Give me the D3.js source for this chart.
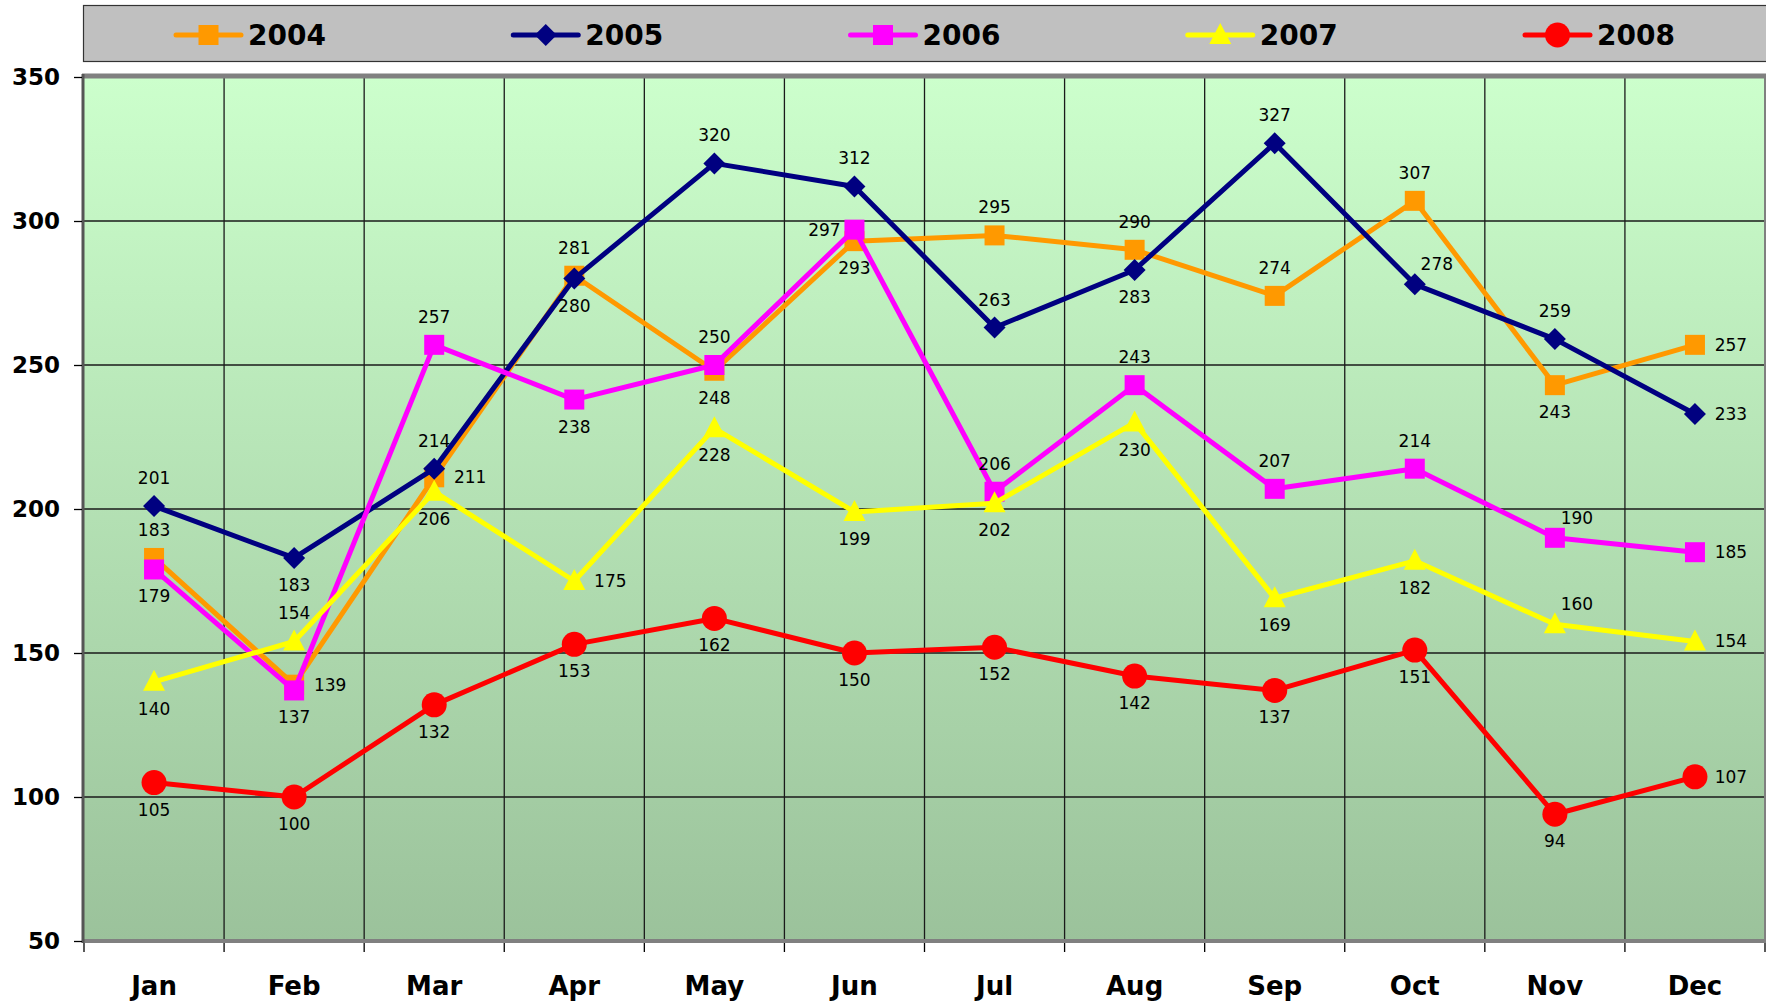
<!DOCTYPE html>
<html>
<head>
<meta charset="utf-8">
<script src="https://cdn.jsdelivr.net/npm/d3@7/dist/d3.min.js"></script>
<style>
  body { margin: 0; background: #ffffff; }
  text { font-family: "DejaVu Sans", Verdana, sans-serif; }
</style>
</head>
<body>
<div id="chart"></div>
<script>
const months = ['Jan', 'Feb', 'Mar', 'Apr', 'May', 'Jun', 'Jul', 'Aug', 'Sep', 'Oct', 'Nov', 'Dec'];
const years = ['2004', '2005', '2006', '2007', '2008'];

const values2004 = [183, 139, 211, 281, 248, 293, 295, 290, 274, 307, 243, 257];
const values2005 = [201, 183, 214, 280, 320, 312, 263, 283, 327, 278, 259, 233];
const values2006 = [179, 137, 257, 238, 250, 297, 206, 243, 207, 214, 190, 185];
const values2007 = [140, 154, 206, 175, 228, 199, 202, 230, 169, 182, 160, 154];
const values2008 = [105, 100, 132, 153, 162, 150, 152, 142, 137, 151, 94, 107];

const yTicks = [50, 100, 150, 200, 250, 300, 350];

// where each data label sits: a = above, b = below, r = right, l = left, ar = above right
const labelPos2004 = ['a', 'r', 'r', 'a', 'b', 'b', 'a', 'a', 'a', 'a', 'b', 'r'];
const labelPos2005 = ['a', 'b', 'a', 'b', 'a', 'a', 'a', 'b', 'a', 'ar', 'a', 'r'];
const labelPos2006 = ['b', 'b', 'a', 'b', 'a', 'l', 'a', 'a', 'a', 'a', 'ar', 'r'];
const labelPos2007 = ['b', 'a', 'b', 'r', 'b', 'b', 'b', 'b', 'b', 'b', 'ar', 'r'];
const labelPos2008 = ['b', 'b', 'b', 'b', 'b', 'b', 'b', 'b', 'b', 'b', 'b', 'r'];

const seriesValues = [values2004, values2005, values2006, values2007, values2008];
const seriesLabelPos = [labelPos2004, labelPos2005, labelPos2006, labelPos2007, labelPos2008];
const seriesColors = ['#FF9900', '#000080', '#FF00FF', '#FFFF00', '#FF0000'];
const seriesShapes = ['square', 'diamond', 'square', 'triangle', 'circle'];

const width = 1766;
const height = 1005;
const plot = {left: 84, right: 1765, top: 77, bottom: 941};

const svg = d3.select('#chart')
    .append('svg')
    .attr('width', width)
    .attr('height', height);

// Fundo em degradê
const defs = svg.append('defs');
const grad = defs.append('linearGradient')
    .attr('id', 'plotBg')
    .attr('x1', 0).attr('y1', 0)
    .attr('x2', 0).attr('y2', 1);
grad.append('stop').attr('offset', '0%').attr('stop-color', '#CCFFCC');
grad.append('stop').attr('offset', '100%').attr('stop-color', '#9BC29B');

const x = d3.scaleBand()
    .domain(months)
    .range([plot.left, plot.right])
    .padding(0);

const y = d3.scaleLinear()
    .domain([50, 350])
    .range([plot.bottom, plot.top]);

svg.append('rect')
    .attr('x', plot.left)
    .attr('y', plot.top)
    .attr('width', plot.right - plot.left)
    .attr('height', plot.bottom - plot.top)
    .attr('fill', 'url(#plotBg)');

// Grades
svg.append('g')
    .selectAll('line')
    .data(yTicks)
    .enter()
    .append('line')
    .attr('x1', plot.left).attr('x2', plot.right)
    .attr('y1', d => y(d)).attr('y2', d => y(d))
    .attr('stroke', '#1a1a1a')
    .attr('stroke-width', 1.3);

svg.append('g')
    .selectAll('line')
    .data(months.slice(1))
    .enter()
    .append('line')
    .attr('x1', d => x(d)).attr('x2', d => x(d))
    .attr('y1', plot.top).attr('y2', plot.bottom)
    .attr('stroke', '#1a1a1a')
    .attr('stroke-width', 1.3);

// Moldura da área do gráfico
svg.append('line')
    .attr('x1', plot.left - 2).attr('x2', plot.right + 1)
    .attr('y1', plot.top - 1).attr('y2', plot.top - 1)
    .attr('stroke', '#808080').attr('stroke-width', 5);
svg.append('line')
    .attr('x1', plot.left - 2).attr('x2', plot.right + 1)
    .attr('y1', plot.bottom).attr('y2', plot.bottom)
    .attr('stroke', '#808080').attr('stroke-width', 4);
svg.append('line')
    .attr('x1', plot.left - 1).attr('x2', plot.left - 1)
    .attr('y1', plot.top - 3).attr('y2', plot.bottom + 2)
    .attr('stroke', '#555555').attr('stroke-width', 3);
svg.append('line')
    .attr('x1', plot.right).attr('x2', plot.right)
    .attr('y1', plot.top - 3).attr('y2', plot.bottom + 2)
    .attr('stroke', '#808080').attr('stroke-width', 2);

// Eixo Y
const yAxis = svg.append('g')
    .attr('transform', `translate(${plot.left - 2},0)`)
    .call(d3.axisLeft(y).tickValues(yTicks).tickSize(8).tickPadding(14));
yAxis.select('.domain').remove();
yAxis.selectAll('.tick line').attr('stroke', '#000').attr('stroke-width', 1.3);
yAxis.selectAll('.tick text')
    .attr('fill', '#000')
    .style('font-family', '"DejaVu Sans", Verdana, sans-serif')
    .style('font-size', '23px')
    .style('font-weight', 'bold');

// Eixo X: marcas nos limites das categorias
svg.append('g')
    .selectAll('line')
    .data(months.concat(['end']))
    .enter()
    .append('line')
    .attr('x1', (d, i) => i < months.length ? x(d) : plot.right)
    .attr('x2', (d, i) => i < months.length ? x(d) : plot.right)
    .attr('y1', plot.bottom + 2)
    .attr('y2', plot.bottom + 11)
    .attr('stroke', '#000')
    .attr('stroke-width', 1.3);

svg.append('g')
    .selectAll('text')
    .data(months)
    .enter()
    .append('text')
    .attr('x', d => x(d) + x.bandwidth() / 2)
    .attr('y', 995)
    .attr('text-anchor', 'middle')
    .attr('fill', '#000')
    .style('font-size', '26px')
    .style('font-weight', 'bold')
    .text(d => d);

// Símbolos
function markerPath(shape) {
    const p = d3.path();
    if (shape === 'square') {
        p.rect(-10, -10, 20, 20);
    } else if (shape === 'diamond') {
        p.moveTo(0, -11); p.lineTo(11, 0); p.lineTo(0, 11); p.lineTo(-11, 0); p.closePath();
    } else if (shape === 'triangle') {
        p.moveTo(0, -12); p.lineTo(11, 9); p.lineTo(-11, 9); p.closePath();
    } else {
        p.arc(0, 0, 12.5, 0, Math.PI * 2);
    }
    return p.toString();
}

const labelOffsets = {
    a: [0, -28],
    b: [0, 27],
    r: [36, 0],
    l: [-30, 0],
    ar: [22, -20]
};

const line = d3.line()
    .x((d, i) => x(months[i]) + x.bandwidth() / 2)
    .y(d => y(d));

seriesValues.forEach((vals, s) => {
    const g = svg.append('g');

    g.append('path')
        .datum(vals)
        .attr('d', line)
        .attr('fill', 'none')
        .attr('stroke', seriesColors[s])
        .attr('stroke-width', 5)
        .attr('stroke-linejoin', 'round');

    g.selectAll('.marker')
        .data(vals)
        .enter()
        .append('path')
        .attr('class', 'marker')
        .attr('d', markerPath(seriesShapes[s]))
        .attr('transform', (d, i) => `translate(${x(months[i]) + x.bandwidth() / 2},${y(d)})`)
        .attr('fill', seriesColors[s]);
});

// Rótulos por cima de tudo
seriesValues.forEach((vals, s) => {
    svg.append('g')
        .selectAll('text')
        .data(vals)
        .enter()
        .append('text')
        .attr('x', (d, i) => x(months[i]) + x.bandwidth() / 2 + labelOffsets[seriesLabelPos[s][i]][0])
        .attr('y', (d, i) => y(d) + labelOffsets[seriesLabelPos[s][i]][1])
        .attr('text-anchor', 'middle')
        .attr('dominant-baseline', 'central')
        .attr('fill', '#000')
        .style('font-size', '17px')
        .text(d => d);
});

// Legenda
const legend = svg.append('g');
legend.append('rect')
    .attr('x', 83.5)
    .attr('y', 5.5)
    .attr('width', 1700)
    .attr('height', 56)
    .attr('fill', '#C0C0C0')
    .attr('stroke', '#333333')
    .attr('stroke-width', 1.2);

const legendX = d3.scalePoint()
    .domain(years)
    .range([176, 1525]);

years.forEach((yr, s) => {
    const lx = legendX(yr);
    const item = legend.append('g').attr('transform', `translate(${lx},35)`);
    item.append('line')
        .attr('x1', 0).attr('x2', 65)
        .attr('y1', 0).attr('y2', 0)
        .attr('stroke', seriesColors[s])
        .attr('stroke-width', 5)
        .attr('stroke-linecap', 'round');
    item.append('path')
        .attr('d', markerPath(seriesShapes[s]))
        .attr('transform', 'translate(32.5,0)')
        .attr('fill', seriesColors[s]);
    item.append('text')
        .attr('x', 72)
        .attr('y', 0)
        .attr('dominant-baseline', 'central')
        .attr('fill', '#000')
        .style('font-size', '28px')
        .style('font-weight', 'bold')
        .text(yr);
});
</script>
</body>
</html>
